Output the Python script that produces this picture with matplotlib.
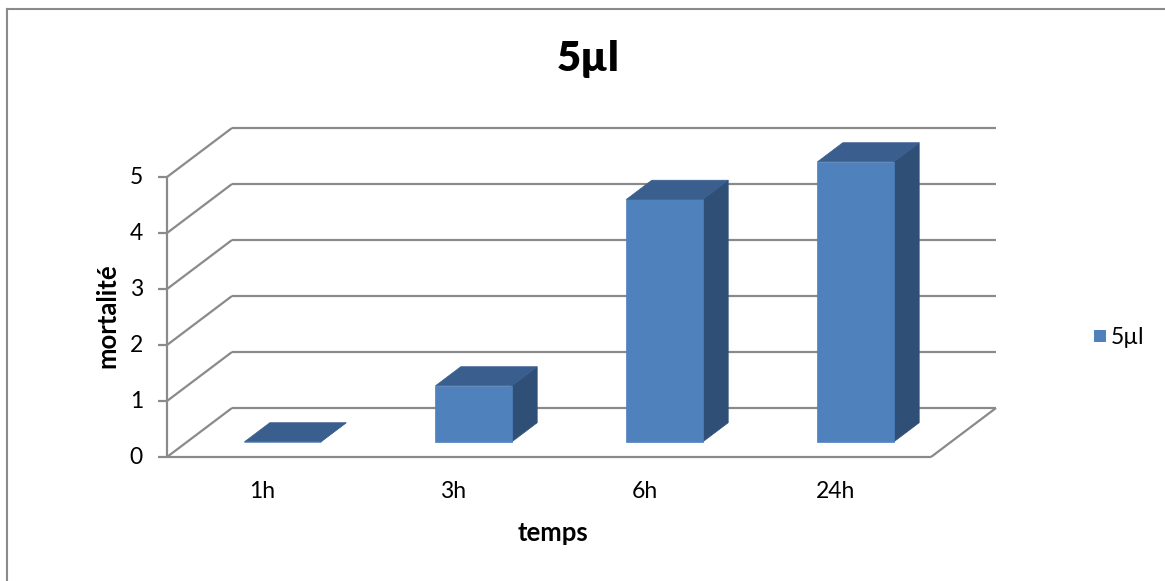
import matplotlib
matplotlib.use("Agg")
import matplotlib.pyplot as plt
from matplotlib.patches import Polygon

categories = ["1h", "3h", "6h", "24h"]
mortalite = [0, 1, 4.33, 5]
y_ticks = [0, 1, 2, 3, 4, 5]
serie = "5µl"

plt.rcParams["font.family"] = ["Lato", "DejaVu Sans"]

W, H = 1165, 581
fig = plt.figure(figsize=(W / 100, H / 100), dpi=100)
ax = fig.add_axes([0, 0, 1, 1])
ax.axis("off")

# geometry of the 3d box, in pixels
x0_px, y0_px = 167, 457        # front-left corner of the floor
cat_px, val_px = 191, 56       # one category / one unit of value
depth_x_px, depth_y_px = 65, 49

ax.set_xlim(-x0_px / cat_px, (W - x0_px) / cat_px)
ax.set_ylim(-(H - y0_px) / val_px, y0_px / val_px)

DX = depth_x_px / cat_px
DY = depth_y_px / val_px


def P(x, v, d):
    # oblique projection: category, value, depth (0 front .. 1 back)
    return (x + d * DX, v + d * DY)


grid = dict(color="#8a8a8a", lw=1.6, solid_capstyle="butt", zorder=1)
n = len(categories)
vmax = y_ticks[-1]

# back wall and left wall gridlines
for v in y_ticks:
    a, b = P(0, v, 1), P(n, v, 1)
    ax.plot([a[0], b[0]], [a[1], b[1]], **grid)
    a, b = P(0, v, 0), P(0, v, 1)
    ax.plot([a[0], b[0]], [a[1], b[1]], **grid)
    ax.plot([-9 / cat_px, 0], [v, v], **grid)
    ax.text(-24 / cat_px, v, str(v), ha="right", va="center",
            fontsize=16.5, color="#000000")

# value axis and floor
ax.plot([0, 0], [0, vmax], **grid)
ax.plot([0, n], [0, 0], **grid)
a, b = P(n, 0, 0), P(n, 0, 1)
ax.plot([a[0], b[0]], [a[1], b[1]], **grid)

# bars
front_c, top_c, side_c = "#4F81BD", "#3A5F8E", "#2F4F77"
bw = 0.4
d0, d1 = 0.31, 0.70
for i, v in enumerate(mortalite):
    xl, xr = i + 0.5 - bw / 2, i + 0.5 + bw / 2
    faces = [
        ([P(xr, 0, d0), P(xr, 0, d1), P(xr, v, d1), P(xr, v, d0)], side_c),
        ([P(xl, 0, d0), P(xr, 0, d0), P(xr, v, d0), P(xl, v, d0)], front_c),
        ([P(xl, v, d0), P(xr, v, d0), P(xr, v, d1), P(xl, v, d1)], top_c),
    ]
    for pts, c in faces:
        ax.add_patch(Polygon(pts, closed=True, facecolor=c,
                             edgecolor=c, lw=0.5, zorder=3))
    ax.text(i + 0.5, -34 / val_px, categories[i], ha="center",
            va="center", fontsize=16.5)

# titles
fig.text(588 / W, 1 - 59 / H, serie, ha="center", va="center",
         fontsize=30, fontweight="heavy")
fig.text(553 / W, 1 - 533 / H, "temps", ha="center", va="center",
         fontsize=18.5, fontweight="bold")
fig.text(107 / W, 1 - 316 / H, "mortalité", ha="center", va="center",
         rotation=90, fontsize=18.5, fontweight="bold")

# legend
fig.patches.append(plt.Rectangle((1094 / W, 1 - 342 / H), 12 / W, 12 / H,
                                 transform=fig.transFigure,
                                 facecolor=front_c, edgecolor="none"))
fig.text(1111 / W, 1 - 337 / H, serie, ha="left", va="center",
         fontsize=16.5)

# chart frame
fig.add_artist(plt.Line2D([7 / W, 7 / W], [0, 1 - 9 / H],
                          transform=fig.transFigure, color="#8a8a8a", lw=1.5))
fig.add_artist(plt.Line2D([7 / W, 1], [1 - 9 / H, 1 - 9 / H],
                          transform=fig.transFigure, color="#8a8a8a", lw=1.5))

fig.savefig("out.png", dpi=100)
